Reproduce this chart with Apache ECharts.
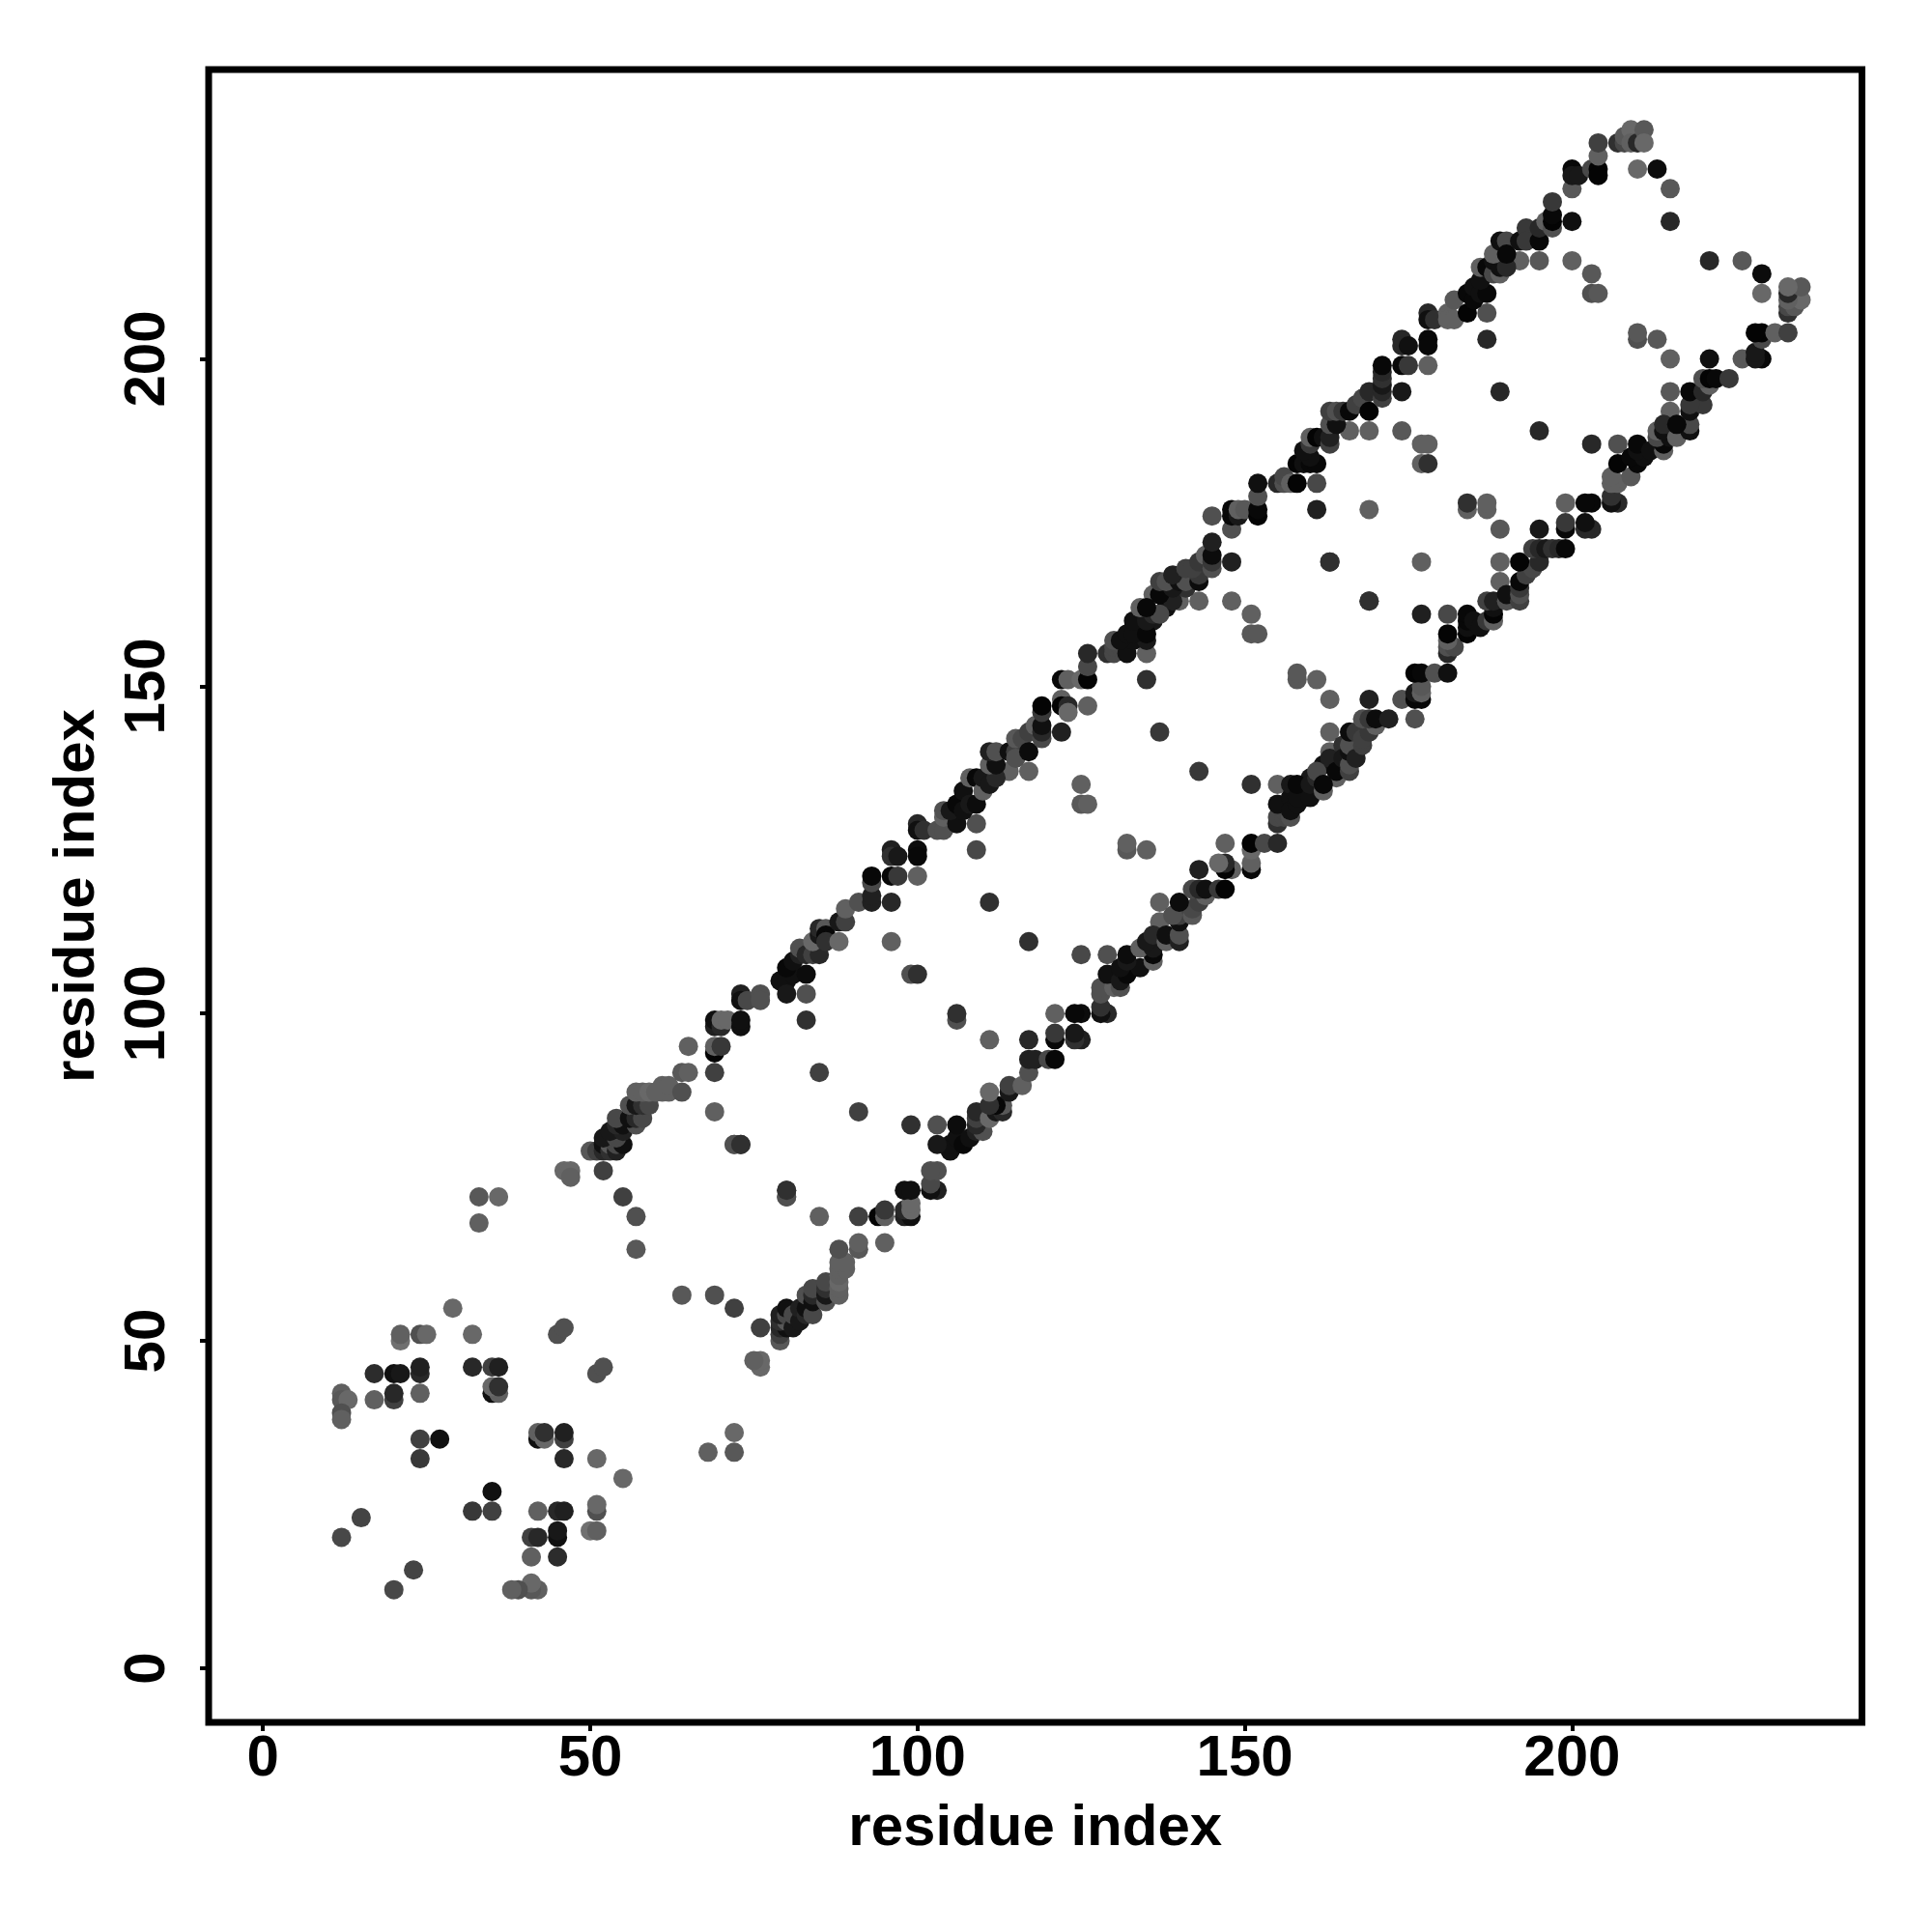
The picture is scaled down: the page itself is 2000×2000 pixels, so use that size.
<!DOCTYPE html>
<html><head><meta charset="utf-8">
<style>html,body{margin:0;padding:0;background:#fff}#c{width:2000px;height:2000px}</style>
<script src="https://cdn.jsdelivr.net/npm/echarts@6/dist/echarts.min.js"></script>
</head><body><div id="c"></div>
<script>
// Contacts: [residue i, residue j, grey level]. The map is symmetric.
const tickValues = [0, 50, 100, 150, 200];
const axisTitle = 'residue index';

const lowCluster = [
[12,20,0x48],[15,23,0x44],[12,42,0x60],[12,41,0x58],[13,41,0x68],[12,39,0x50],[12,38,0x60],
[17,45,0x2c],[17,41,0x60],[20,45,0x10],[21,45,0x18],[20,41,0x40],[20,42,0x28],[21,50,0x70],[21,51,0x60],
[24,51,0x50],[25,51,0x68],[24,45,0x28],[24,46,0x20],[24,42,0x60],[24,35,0x40],[27,35,0x10],[24,32,0x38],
[29,55,0x68],[32,51,0x68],[32,46,0x28],[35,46,0x40],[36,46,0x20],[35,42,0x10],[36,42,0x60],[35,43,0x68],[36,43,0x30],
[45,51,0x50],[46,52,0x50],[33,72,0x58],[36,72,0x68],[33,68,0x60]
];
const turnPoints = [
[46,76,0x68],[47,76,0x68],[47,75,0x60],[52,76,0x40],[55,72,0x40],[57,69,0x50],[57,64,0x58],
[72,80,0x50],[73,80,0x30],[80,72,0x50],[80,73,0x30],[69,85,0x60],[69,91,0x40],[85,91,0x40],
[83,99,0x30],[83,103,0x50],[99,106,0x50],[100,106,0x30],[96,111,0x60],[111,117,0x30],
[109,125,0x48],[109,129,0x50],[114,137,0x60],[117,137,0x60],[125,135,0x60],[125,132,0x58],[126,132,0x60],
[137,143,0x38],[122,143,0x20],[126,147,0x60],[135,151,0x30],[135,155,0x60],
[136,164,0x60],[140,163,0x60],[143,163,0x60],[148,163,0x60],[151,161,0x60],[151,158,0x58],[152,158,0x58],
[148,169,0x20],[148,174,0x50],[145,176,0x50],[163,169,0x38],[169,177,0x60],[161,177,0x20],[161,181,0x48],
[169,163,0x30],[166,189,0x60],[169,189,0x60],[174,189,0x58],[177,187,0x60],[178,187,0x60],[177,184,0x60],[178,184,0x30],
[174,195,0x18],[187,207,0x50],[187,203,0x28],[189,195,0x28],[192,215,0x60],[195,215,0x58],[200,215,0x60],
[203,213,0x58],[203,210,0x50],[204,210,0x58],[200,221,0x10],[200,226,0x58],[210,229,0x68],[213,229,0x0c],
[215,226,0x58],[215,221,0x28]
];
const bandA = [
[50,79,0x58],[51,79,0x40],[52,79,0x28],[52,80,0x10],[53,79,0x30],[53,80,0x58],[54,79,0x20],[54,80,0x48],[55,80,0x10],
[52,81,0x18],[54,81,0x48],[53,82,0x18],[55,82,0x20],[54,83,0x28],[55,83,0x10],[57,83,0x50],[54,84,0x48],[56,84,0x10],
[57,84,0x28],[58,84,0x48],[56,86,0x50],[57,86,0x18],[58,86,0x30],[59,86,0x48],[57,88,0x60],[58,88,0x60],[59,88,0x68],
[60,88,0x60],[61,88,0x60],[61,89,0x60],[62,88,0x60],[62,89,0x60],[64,88,0x50],[64,91,0x58],[65,91,0x60],[65,95,0x60],
[69,94,0x04],[69,95,0x60],[70,95,0x38],[69,98,0x20],[69,99,0x10],[70,98,0x28],[70,99,0x68],[71,99,0x68],[73,98,0x10],[73,99,0x10],
[73,103,0x20],[73,102,0x10],[74,102,0x48],[76,103,0x50],[76,102,0x50],[79,105,0x10],[80,105,0x10],[80,103,0x18],
[81,106,0x10],[83,106,0x0c],[80,107,0x08],[81,108,0x10],[82,109,0x20],[82,110,0x50],[83,109,0x28],[84,109,0x40],
[85,109,0x28],[84,111,0x68],[85,112,0x18],[85,113,0x28],[86,113,0x58],[86,112,0x08],[86,111,0x30],[88,111,0x68],
[88,114,0x18],[89,114,0x40],[89,116,0x60]
];
const bandB = [
[91,117,0x50],[93,117,0x20],[93,118,0x20],[93,120,0x48],[93,121,0x08],[96,117,0x28],[96,121,0x08],[97,121,0x38],[100,121,0x60],
[96,125,0x20],[96,124,0x30],[97,124,0x18],[100,125,0x0c],[100,124,0x08],[100,129,0x28],[100,128,0x10],[101,128,0x30],
[103,128,0x50],[104,128,0x50],[104,130,0x60],[104,131,0x50],[106,129,0x10],[105,131,0x18],[106,132,0x08],[107,131,0x10],
[107,134,0x10],[108,132,0x18],[109,132,0x0c],[108,136,0x60],[109,136,0x08],[110,134,0x60],[110,136,0x18],[111,135,0x18],
[112,136,0x28],[111,138,0x60],[112,138,0x10],[111,140,0x20],[112,140,0x50],[114,140,0x10],[115,140,0x40],[115,139,0x50],
[115,142,0x58],[116,142,0x48],[117,140,0x0c],[117,143,0x40],[118,144,0x60],[119,142,0x48],[119,143,0x28],[119,144,0x10],
[119,146,0x38],[119,147,0x04],[122,151,0x08],[123,151,0x60],[122,148,0x60],[122,147,0x04],[123,147,0x28],[123,146,0x68],
[125,151,0x68],[126,151,0x04],[126,153,0x48],[126,155,0x28],[129,155,0x30]
];
const bandFill = [
[130,155,0x48],[130,156,0x48],[131,156,0x48],[132,155,0x10],[133,157,0x10],[133,159,0x08],[134,159,0x18],[135,157,0x18],
[136,160,0x18],[138,162,0x10],[138,164,0x10],[139,163,0x20],[141,165,0x30],[142,167,0x38]
];
const bandC = [
[130,157,0x50],[131,157,0x10],[132,158,0x10],[133,158,0x10],[135,158,0x08],[133,160,0x10],[135,160,0x18],[136,161,0x28],
[137,161,0x48],[134,162,0x60],[135,162,0x08],[137,164,0x08],[139,165,0x18],[137,166,0x40],[138,166,0x50],[140,166,0x10],
[141,166,0x50],[139,167,0x20],[143,166,0x0c],[143,167,0x38],[141,168,0x40],[142,168,0x40],[143,169,0x38],[144,170,0x60],
[145,168,0x50],[145,169,0x38],[145,170,0x0c],[145,172,0x20],[148,176,0x08],[148,177,0x08],[149,176,0x18],[149,177,0x60],
[150,177,0x58],[152,176,0x04],[152,177,0x08],[152,179,0x50],[152,181,0x10],[155,181,0x28],[156,181,0x50],[156,182,0x48],
[157,181,0x60],[158,181,0x04],[158,184,0x04],[159,184,0x10],[160,184,0x08],[161,184,0x08],[160,185,0x10],[159,186,0x10],
[160,187,0x38],[160,188,0x60],[161,188,0x04],[162,188,0x10],[163,187,0x40],[163,188,0x20],[163,190,0x50],[164,190,0x10],
[163,192,0x40],[164,192,0x50],[165,192,0x38],[166,192,0x08],[167,193,0x40],[168,194,0x48],[169,192,0x04],[169,195,0x28]
];
const bandD = [
[171,194,0x40],[171,195,0x28],[171,196,0x18],[171,197,0x30],[171,198,0x28],[171,199,0x08],[174,199,0x08],[175,199,0x38],[178,199,0x60],
[174,203,0x28],[174,202,0x28],[175,202,0x10],[178,203,0x08],[178,202,0x08],[178,207,0x28],[178,206,0x10],[179,206,0x30],
[181,207,0x60],[181,206,0x60],[182,206,0x60],[182,209,0x58],[184,207,0x04],[184,210,0x08],[185,209,0x08],[185,211,0x10],
[186,210,0x10],[187,210,0x08],[186,212,0x10],[186,214,0x60],[187,214,0x08],[188,213,0x48],[189,213,0x60],[188,215,0x10],
[189,214,0x10],[190,214,0x28],[188,216,0x60],[189,218,0x10],[190,218,0x48],[190,216,0x08],[192,218,0x10],[193,220,0x38],
[193,218,0x38],[195,218,0x08],[195,220,0x28],[196,221,0x60],[197,220,0x50],[197,221,0x04],[197,222,0x08],[197,224,0x38],
[200,229,0x08],[200,228,0x18],[201,228,0x18],[203,229,0x48],[204,229,0x04],[204,228,0x04],[204,231,0x60],[204,233,0x40]
];
const apex = [
[207,233,0x30],[208,233,0x48],[208,234,0x58],[209,235,0x68],[209,233,0x60],[210,233,0x28],[211,235,0x58],[211,233,0x68]
];

const contacts = [].concat(lowCluster, turnPoints, bandA, bandB, bandFill, bandC, bandD, apex);
const points = [];
contacts.forEach(c => { points.push([c[0], c[1], c[2]]); points.push([c[1], c[0], c[2]]); });

const font = 'Liberation Sans';
function axis(rotate, nameGap, labelMargin, min, max) {
  return {
    type: 'value', min: min, max: max, scale: false,
    name: axisTitle, nameLocation: 'middle', nameGap: nameGap,
    nameTextStyle: { fontFamily: font, fontWeight: 'bold', fontSize: 60, color: '#000' },
    axisLine: { show: false, onZero: false },
    splitLine: { show: false },
    axisTick: { show: true, length: 9, lineStyle: { color: '#000', width: 4 }, customValues: tickValues },
    axisLabel: { show: true, rotate: rotate, margin: labelMargin, fontFamily: font, fontWeight: 'bold', fontSize: 60, color: '#000',
      customValues: tickValues, formatter: v => String(v) }
  };
}
const chart = echarts.init(document.getElementById('c'), null, { renderer: 'canvas' });
chart.setOption({
  animation: false,
  backgroundColor: '#fff',
  grid: { show: true, left: 216, top: 72, width: 1711.5, height: 1711, borderWidth: 7, borderColor: '#000', backgroundColor: 'transparent', containLabel: false },
  xAxis: axis(0, 80, 8, -8.3, 244.3),
  yAxis: axis(90, 106, 33, -8.27, 244.2),
  series: [{
    type: 'scatter', symbol: 'circle', symbolSize: 20, silent: true,
    data: points,
    itemStyle: { opacity: 1, color: p => { const g = p.value[2]; return 'rgb(' + g + ',' + g + ',' + g + ')'; } }
  }]
});
</script></body></html>
